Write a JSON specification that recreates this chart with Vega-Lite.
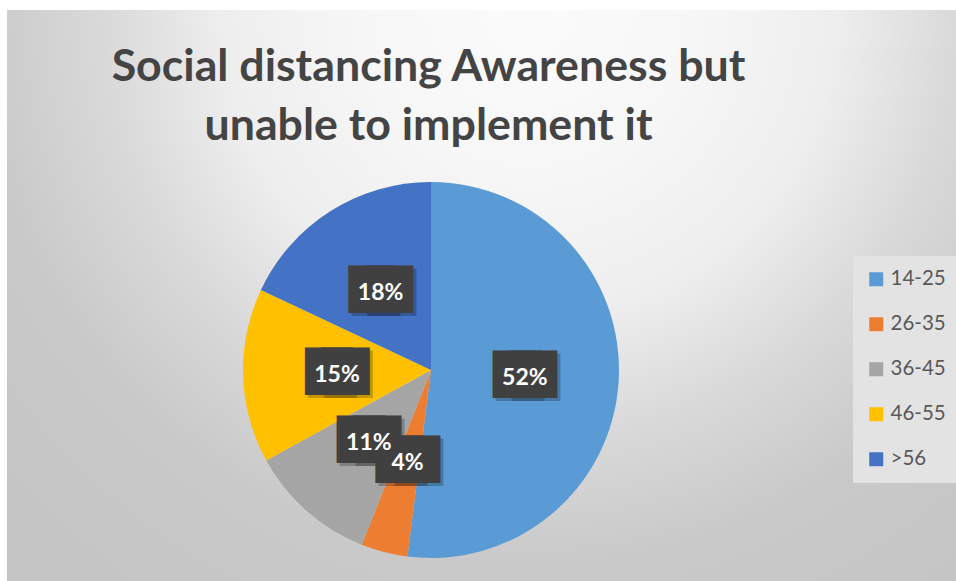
{
  "$schema": "https://vega.github.io/schema/vega-lite/v6.json",
  "width": 949,
  "height": 571,
  "autosize": {"type": "none"},
  "padding": {"left": 7, "top": 10, "right": 0, "bottom": 0},
  "background": "white",
  "title": {
    "text": ["Social distancing Awareness but", "unable to implement it"],
    "font": "Lato",
    "fontSize": 44.7,
    "fontWeight": "bold",
    "color": "#444444",
    "anchor": "middle",
    "frame": "group",
    "dx": -53,
    "offset": -140,
    "lineHeight": 59
  },
  "config": {
    "view": {"stroke": "#bdbdbd", "strokeWidth": 1}
  },
  "data": {
    "values": [
      {"age": "14-25", "share": 0.52},
      {"age": "26-35", "share": 0.04},
      {"age": "36-45", "share": 0.11},
      {"age": "46-55", "share": 0.15},
      {"age": ">56", "share": 0.18}
    ]
  },
  "encoding": {
    "theta": {"field": "share", "type": "quantitative", "stack": true},
    "color": {
      "field": "age",
      "type": "nominal",
      "sort": ["14-25", "26-35", "36-45", "46-55", ">56"],
      "scale": {
        "domain": ["14-25", "26-35", "36-45", "46-55", ">56"],
        "range": ["#5B9BD5", "#ED7D31", "#A5A5A5", "#FFC000", "#4472C4"]
      },
      "legend": {
        "title": null,
        "orient": "none",
        "legendX": 846,
        "legendY": 246,
        "fillColor": "#e3e3e3",
        "padding": 13,
        "symbolType": "square",
        "symbolSize": 196,
        "symbolStrokeWidth": 0,
        "labelFont": "Lato",
        "labelFontSize": 20.5,
        "labelColor": "#595959",
        "labelOffset": 4,
        "rowPadding": 24,
        "labelLimit": 200
      }
    }
  },
  "layer": [
    {
      "data": {"values": [{}]},
      "mark": {
        "type": "rect",
        "color": {
          "gradient": "radial",
          "x1": 0.55, "y1": 0.2, "r1": 0,
          "x2": 0.55, "y2": 0.2, "r2": 0.75,
          "stops": [
            {"offset": 0, "color": "#fbfbfb"},
            {"offset": 0.22, "color": "#f7f7f7"},
            {"offset": 0.43, "color": "#eeeeee"},
            {"offset": 0.6, "color": "#d9d9d9"},
            {"offset": 0.78, "color": "#c9c9c9"},
            {"offset": 1, "color": "#c5c5c5"}
          ]
        }
      },
      "encoding": {"theta": null, "color": null}
    },
    {
      "mark": {"type": "arc", "outerRadius": 188, "xOffset": -50.5, "yOffset": 74.5}
    },
    {
      "mark": {"type": "text", "text": "██", "font": "DejaVu Sans Mono", "fontSize": 40, "xOffset": -50.5, "yOffset": 74.5, "dx": -5, "dy": 3, "baseline": "middle", "align": "center", "opacity": 0.22},
      "encoding": {"radius": {"value": 94}, "color": {"value": "#000000"}, "order": {"field": "age"}}
    },
    {
      "mark": {"type": "text", "text": "██", "font": "DejaVu Sans Mono", "fontSize": 40, "xOffset": -50.5, "yOffset": 74.5, "dx": 11, "dy": 3, "baseline": "middle", "align": "center", "opacity": 0.22},
      "encoding": {"radius": {"value": 94}, "color": {"value": "#000000"}, "order": {"field": "age"}}
    },
    {
      "mark": {"type": "text", "text": "██", "font": "DejaVu Sans Mono", "fontSize": 40, "xOffset": -50.5, "yOffset": 74.5, "dx": -8, "dy": 0, "baseline": "middle", "align": "center"},
      "encoding": {"radius": {"value": 94}, "color": {"value": "#404040"}, "order": {"field": "age"}}
    },
    {
      "mark": {"type": "text", "text": "██", "font": "DejaVu Sans Mono", "fontSize": 40, "xOffset": -50.5, "yOffset": 74.5, "dx": 8, "dy": 0, "baseline": "middle", "align": "center"},
      "encoding": {"radius": {"value": 94}, "color": {"value": "#404040"}, "order": {"field": "age"}}
    },
    {
      "mark": {"type": "text", "font": "Lato", "fontSize": 23, "fontWeight": "bold", "xOffset": -50.5, "yOffset": 74.5, "dy": 2, "baseline": "middle", "align": "center"},
      "encoding": {
        "radius": {"value": 94},
        "text": {"field": "share", "type": "quantitative", "format": ".0%"},
        "color": {"value": "#ffffff"},
        "order": {"field": "age"}
      }
    }
  ]
}
